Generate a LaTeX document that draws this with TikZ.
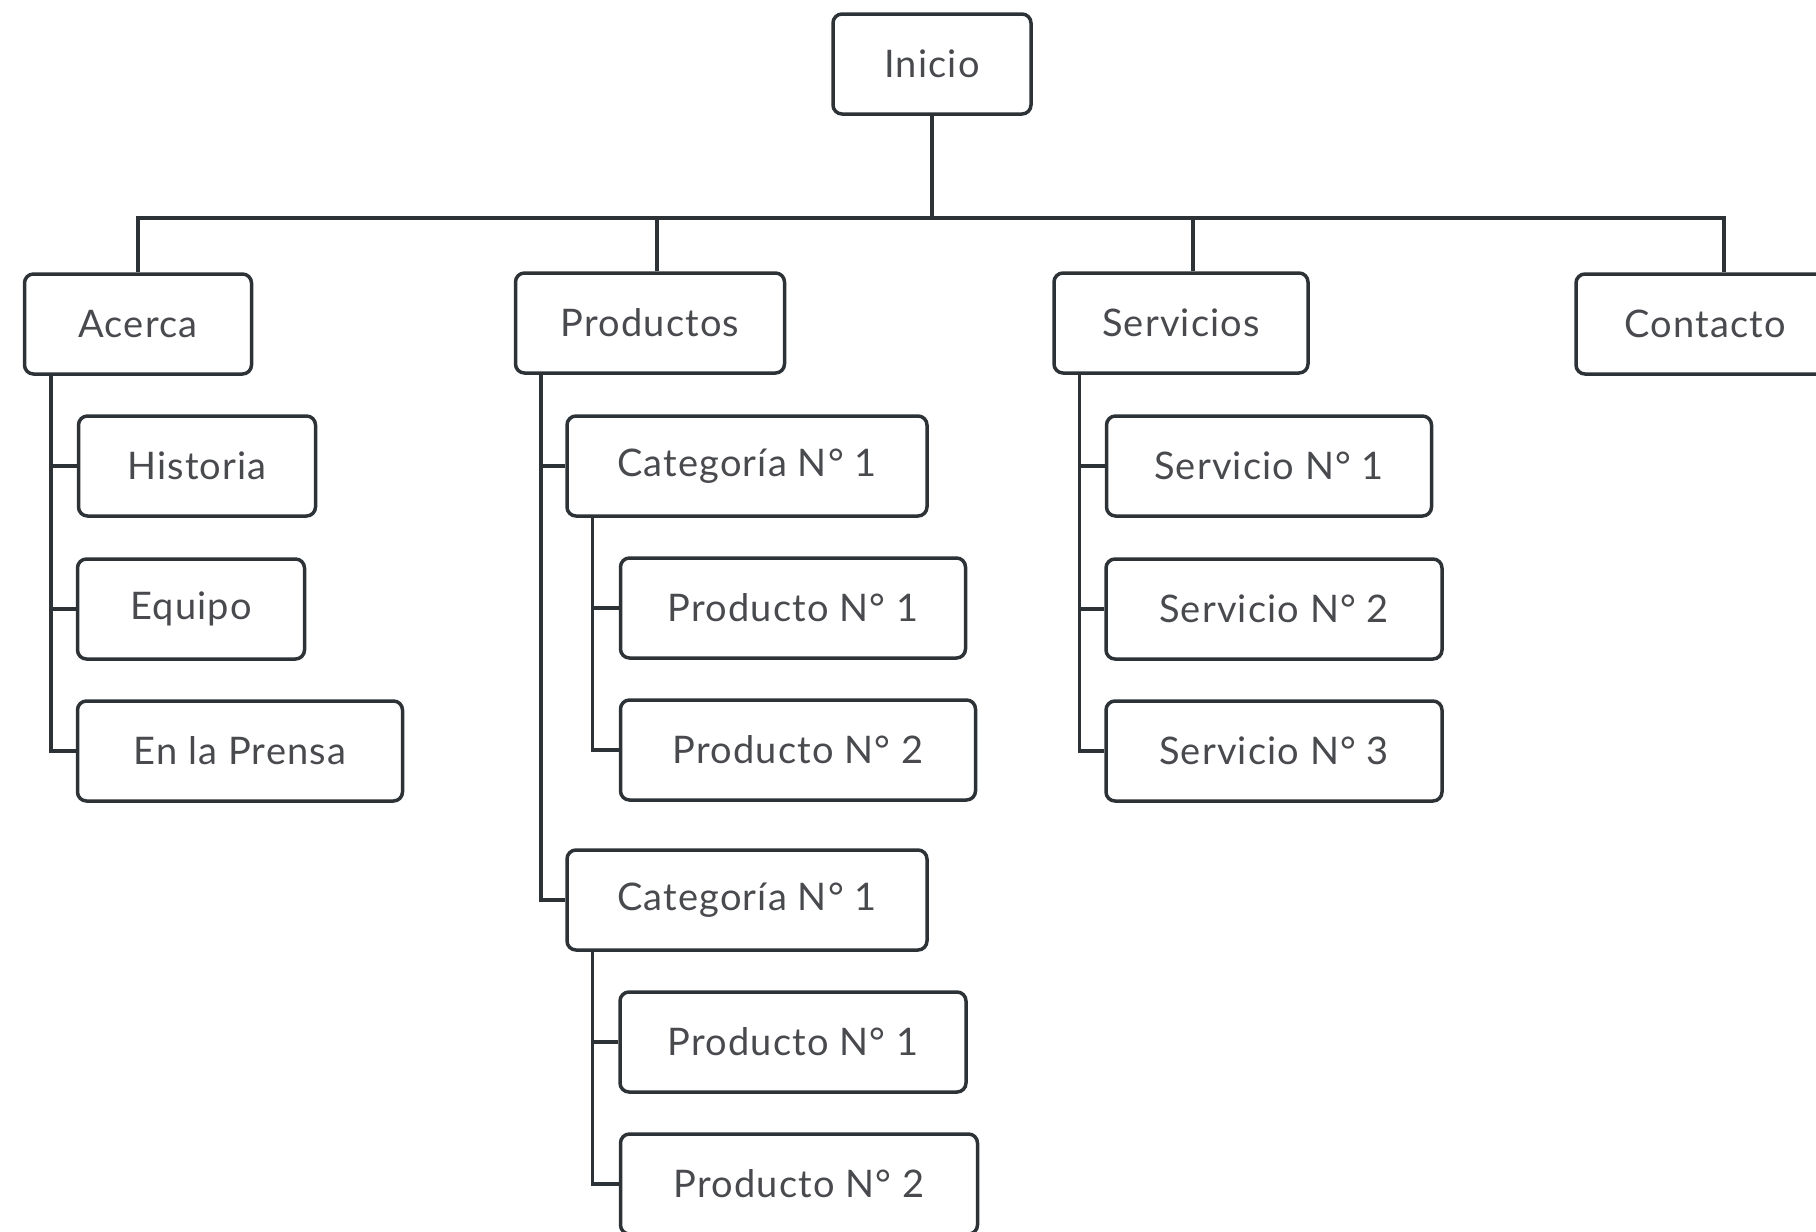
\documentclass[tikz,border=0pt]{standalone}
\usepackage{fontspec}
\setmainfont{Lato}[LetterSpace=3]
\usepackage{xcolor}
\usepackage{tikz}
\usetikzlibrary{positioning, calc}
\definecolor{lineagris}{RGB}{45,50,55}
\definecolor{textogris}{RGB}{72,74,78}

\tikzset{pagina/.style={draw=lineagris, line width=3.5pt, rounded corners=9pt, minimum height=100pt, inner sep=0pt, text=textogris, font=\fontsize{38}{46}\selectfont}}

\begin{document}
\begin{tikzpicture}[x=1pt, y=-1pt, line width=3.5pt, draw=lineagris]
				\clip (0,0) rectangle (1816,1232);
				%% nivel 0 y nivel 1
				\node[pagina, minimum width=198pt] (inicio) at (932,64) {Inicio};
				\node[pagina, minimum width=227pt] (acerca) at (138,324) {Acerca};
				\node[pagina, minimum width=269pt] (productos) at (650,323) {Productos};
				\node[pagina, minimum width=254pt] (servicios) at (1181,323) {Servicios};
				\node[pagina, minimum width=258pt] (contacto) at (1705,324) {Contacto};
				%% bajo Acerca
				\node[pagina, minimum width=237pt] (historia) at (197,466) {Historia};
				\node[pagina, minimum width=227pt] (equipo) at (191,609) {Equipo};
				\node[pagina, minimum width=325pt] (prensa) at (240,751) {En la Prensa};
				%% bajo Productos
				\node[pagina, minimum width=360pt] (catA) at (747,466) {Categoría N° 1};
				\node[pagina, minimum width=345pt] (prodAa) at (793,608) {Producto N° 1};
				\node[pagina, minimum width=355pt] (prodAb) at (798,750) {Producto N° 2};
				\node[pagina, minimum width=360pt] (catB) at (747,900) {Categoría N° 1};
				\node[pagina, minimum width=346pt] (prodBa) at (793,1042) {Producto N° 1};
				\node[pagina, minimum width=357pt] (prodBb) at (799,1184) {Producto N° 2};
				%% bajo Servicios
				\node[pagina, minimum width=325pt] (servA) at (1269,466) {Servicio N° 1};
				\node[pagina, minimum width=336pt] (servB) at (1274,609) {Servicio N° 2};
				\node[pagina, minimum width=336pt] (servC) at (1274,751) {Servicio N° 3};

				%% barra horizontal
				\coordinate (bus) at (932,218);
				\draw (inicio.south) -- (inicio.south |- bus);
				\draw (acerca.north) -- (acerca.north |- bus) -- ([xshift=19pt]contacto.north |- bus) -- ([xshift=19pt]contacto.north);
				\draw ([xshift=7pt]productos.north) -- ([xshift=7pt]productos.north |- bus);
				\draw ([xshift=12pt]servicios.north) -- ([xshift=12pt]servicios.north |- bus);

				%% troncos verticales
				\coordinate (troncoAc) at ([xshift=28pt]acerca.south west);
				\coordinate (troncoPr) at ([xshift=27pt]productos.south west);
				\coordinate (troncoCa) at ([xshift=27pt]catA.south west);
				\coordinate (troncoCb) at ([xshift=27pt]catB.south west);
				\coordinate (troncoSe) at ([xshift=27pt]servicios.south west);
				\draw (troncoAc) |- (prensa.west);
				\draw (troncoPr) |- (catB.west);
				\draw (troncoCa) |- (prodAb.west);
				\draw (troncoCb) |- (prodBb.west);
				\draw (troncoSe) |- (servC.west);
				\draw (historia.west) -- (historia.west -| troncoAc);
				\draw (equipo.west) -- (equipo.west -| troncoAc);
				\draw (catA.west) -- (catA.west -| troncoPr);
				\draw (prodAa.west) -- (prodAa.west -| troncoCa);
				\draw (prodBa.west) -- (prodBa.west -| troncoCb);
				\draw (servA.west) -- (servA.west -| troncoSe);
				\draw (servB.west) -- (servB.west -| troncoSe);
\end{tikzpicture}
\end{document}
